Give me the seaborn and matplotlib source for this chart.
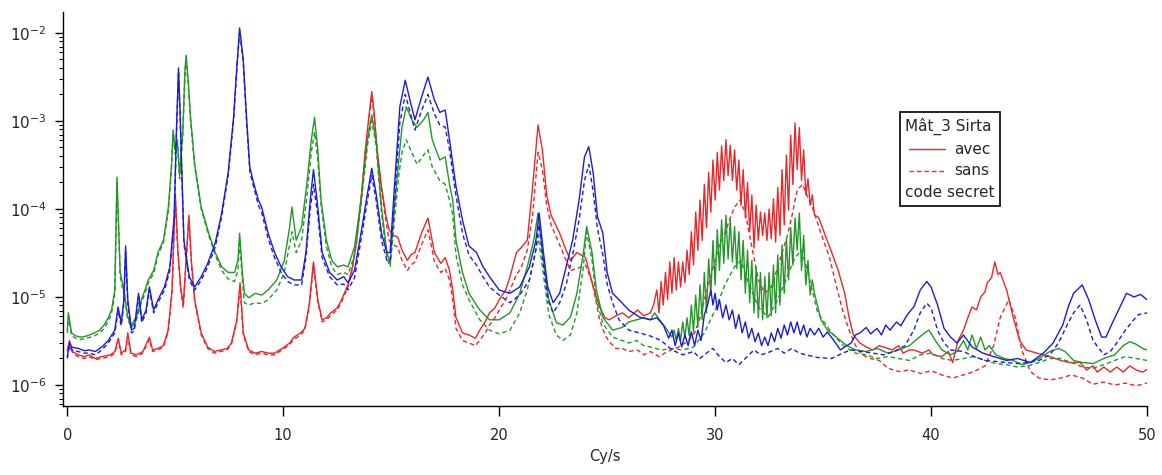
import matplotlib
matplotlib.use("Agg")
import matplotlib.pyplot as plt
import pandas as pd
import seaborn as sns
from matplotlib.lines import Line2D
from matplotlib.offsetbox import AnchoredOffsetbox, VPacker, HPacker, TextArea, DrawingArea
from matplotlib.ticker import LogLocator, NullFormatter, NullLocator

# Spectres Mât_3 Sirta : (fréquence Cy/s, densité)
red_avec = [
    (0.0, 2.5e-6), (0.1, 3.2e-6), (0.25, 2.4e-6), (0.5, 2.2e-6), (0.8, 2.1e-6), (1.0, 2.2e-6),
    (1.3, 2.0e-6), (1.6, 2.1e-6), (2.0, 2.2e-6), (2.2, 2.4e-6), (2.36, 3.4e-6), (2.5, 2.3e-6),
    (2.7, 2.5e-6), (2.8, 3.9e-6), (2.95, 2.3e-6), (3.2, 2.2e-6), (3.5, 2.4e-6), (3.8, 3.5e-6),
    (3.95, 2.5e-6), (4.2, 2.6e-6), (4.45, 2.8e-6), (4.67, 4.2e-6), (4.85, 1.2e-5), (5.0, 1.5e-4),
    (5.12, 3.4e-5), (5.25, 1.3e-5), (5.37, 8.1e-6), (5.5, 2.6e-5), (5.63, 8.5e-5), (5.75, 2.5e-5),
    (5.9, 9.3e-6), (6.2, 3.9e-6), (6.5, 2.7e-6), (6.8, 2.4e-6), (7.1, 2.5e-6), (7.4, 2.6e-6),
    (7.6, 3.0e-6), (7.85, 5.5e-6), (8.0, 1.45e-5), (8.15, 3.9e-6), (8.4, 2.5e-6), (8.7, 2.3e-6),
    (9.0, 2.4e-6), (9.3, 2.3e-6), (9.6, 2.3e-6), (10.05, 2.7e-6), (10.3, 3.0e-6), (10.5, 3.5e-6),
    (10.8, 3.9e-6), (11.0, 4.4e-6), (11.2, 8.1e-6), (11.4, 2.5e-5), (11.6, 9.3e-6), (11.8, 5.5e-6),
    (12.0, 5.8e-6), (12.2, 6.6e-6), (12.5, 7.5e-6), (12.7, 9.3e-6), (13.0, 1.37e-5), (13.2, 2.2e-5),
    (13.4, 4.4e-5), (13.6, 1.26e-4), (13.8, 4.7e-4), (13.95, 1.03e-3), (14.1, 2.15e-3), (14.2, 1.33e-3),
    (14.35, 4.7e-4), (14.55, 1.8e-4), (14.75, 8.5e-5), (14.9, 5.8e-5), (15.1, 5.0e-5), (15.3, 4.8e-5),
    (15.5, 3.4e-5), (15.75, 2.6e-5), (15.9, 3.0e-5), (16.1, 3.2e-5), (16.4, 5.3e-5), (16.7, 7.9e-5),
    (16.85, 5.0e-5), (17.0, 3.2e-5), (17.3, 2.4e-5), (17.5, 2.8e-5), (17.7, 2.0e-5), (17.85, 1.2e-5),
    (18.0, 5.8e-6), (18.3, 3.9e-6), (18.6, 3.7e-6), (18.9, 3.4e-6), (19.1, 4.2e-6), (19.35, 5.2e-6),
    (19.55, 6.6e-6), (19.8, 7.5e-6), (20.0, 9.3e-6), (20.3, 1.2e-5), (20.5, 1.7e-5), (20.8, 3.2e-5),
    (21.0, 3.6e-5), (21.3, 4.4e-5), (21.55, 1.8e-4), (21.8, 9.0e-4), (22.0, 4.7e-4), (22.2, 1.44e-4),
    (22.4, 8.5e-5), (22.8, 5.3e-5), (23.1, 3.4e-5), (23.3, 2.6e-5), (23.6, 3.2e-5), (24.0, 2.8e-5),
    (24.3, 1.45e-5), (24.65, 7.7e-6), (24.9, 5.8e-6), (25.1, 5.5e-6), (25.4, 6.1e-6), (25.7, 6.6e-6),
    (26.0, 5.8e-6), (26.4, 7.1e-6), (26.7, 6.1e-6), (27.0, 6.6e-6), (27.15, 8.1e-6),
    (27.3, 1.2e-5), (27.4, 6.6e-6), (27.5, 1.5e-5), (27.6, 8.1e-6), (27.7, 1.9e-5), (27.8, 9.3e-6),
    (27.9, 2.5e-5), (28.0, 1.1e-5), (28.1, 2.8e-5), (28.2, 1.2e-5), (28.3, 2.5e-5), (28.4, 1.3e-5),
    (28.5, 2.5e-5), (28.6, 1.45e-5), (28.7, 3.4e-5), (28.8, 1.8e-5), (28.9, 5.5e-5), (29.0, 2.3e-5),
    (29.1, 9.2e-5), (29.2, 3.4e-5), (29.3, 1.26e-4), (29.4, 4.4e-5), (29.5, 1.9e-4), (29.6, 6.1e-5),
    (29.7, 2.6e-4), (29.8, 9.2e-5), (29.9, 3.6e-4), (30.0, 1.26e-4), (30.1, 4.4e-4), (30.2, 1.64e-4),
    (30.3, 5.2e-4), (30.4, 2.1e-4), (30.5, 6.1e-4), (30.6, 2.4e-4), (30.7, 5.3e-4), (30.8, 2.1e-4),
    (30.9, 4.7e-4), (31.0, 1.64e-4), (31.1, 3.6e-4), (31.2, 1.1e-4), (31.3, 2.8e-4), (31.4, 7.9e-5),
    (31.5, 2.0e-4), (31.6, 5.5e-5), (31.7, 1.44e-4), (31.8, 3.6e-5), (31.9, 1.1e-4), (32.0, 4.4e-5),
    (32.1, 9.2e-5), (32.2, 5.0e-5), (32.3, 9.0e-5), (32.4, 4.4e-5), (32.5, 1.0e-4), (32.6, 4.6e-5),
    (32.7, 1.3e-4), (32.8, 4.2e-5), (32.9, 1.75e-4), (33.0, 5.0e-5), (33.1, 2.8e-4), (33.2, 6.6e-5),
    (33.3, 4.1e-4), (33.4, 9.7e-5), (33.5, 6.9e-4), (33.6, 1.9e-4), (33.7, 9.5e-4), (33.8, 2.8e-4),
    (33.9, 8.4e-4), (34.0, 2.1e-4), (34.1, 4.7e-4), (34.2, 1.44e-4), (34.3, 2.2e-4), (34.4, 1.1e-4),
    (34.5, 1.44e-4), (34.6, 8.5e-5), (34.8, 8.0e-5), (35.1, 5.0e-5), (35.4, 3.2e-5), (35.7, 2.0e-5),
    (36.0, 1.1e-5), (36.2, 5.9e-6), (36.4, 3.7e-6), (36.7, 3.0e-6), (37.0, 2.7e-6), (37.3, 2.5e-6),
    (37.6, 2.8e-6), (37.8, 2.7e-6), (38.2, 2.5e-6), (38.5, 2.8e-6), (38.7, 2.3e-6), (39.0, 2.5e-6),
    (39.2, 2.5e-6), (39.6, 2.3e-6), (39.9, 2.5e-6), (40.1, 2.2e-6), (40.5, 2.1e-6), (40.8, 2.4e-6),
    (41.0, 1.8e-6), (41.25, 3.2e-6), (41.5, 4.2e-6), (41.7, 5.8e-6), (41.9, 7.7e-6), (42.1, 7.1e-6),
    (42.3, 1.0e-5), (42.5, 1.15e-5), (42.6, 1.45e-5), (42.8, 1.65e-5), (42.95, 2.5e-5), (43.1, 1.8e-5),
    (43.2, 1.9e-5), (43.5, 1.2e-5), (43.8, 5.9e-6), (44.1, 3.2e-6), (44.4, 2.5e-6), (44.9, 2.3e-6),
    (45.5, 2.1e-6), (46.0, 1.9e-6), (46.4, 1.8e-6), (46.9, 1.8e-6), (47.2, 1.48e-6), (47.5, 1.65e-6),
    (47.7, 1.4e-6), (48.0, 1.6e-6), (48.3, 1.4e-6), (48.6, 1.6e-6), (48.9, 1.4e-6), (49.2, 1.65e-6),
    (49.5, 1.48e-6), (49.8, 1.4e-6), (50.0, 1.5e-6),
]

red_sans = [
    (0.0, 2.4e-6), (0.1, 3.0e-6), (0.25, 2.3e-6), (0.5, 2.1e-6), (0.8, 2.0e-6), (1.0, 2.1e-6),
    (1.3, 1.95e-6), (1.6, 2.0e-6), (2.0, 2.1e-6), (2.2, 2.3e-6), (2.36, 3.2e-6), (2.5, 2.2e-6),
    (2.7, 2.4e-6), (2.8, 3.6e-6), (2.95, 2.2e-6), (3.2, 2.1e-6), (3.5, 2.3e-6), (3.8, 3.3e-6),
    (3.95, 2.4e-6), (4.2, 2.5e-6), (4.45, 2.7e-6), (4.67, 4.0e-6), (4.85, 1.1e-5), (5.0, 1.35e-4),
    (5.12, 3.2e-5), (5.25, 1.2e-5), (5.37, 7.5e-6), (5.5, 2.4e-5), (5.63, 7.8e-5), (5.75, 2.3e-5),
    (5.9, 8.8e-6), (6.2, 3.7e-6), (6.5, 2.6e-6), (6.8, 2.3e-6), (7.1, 2.4e-6), (7.4, 2.5e-6),
    (7.6, 2.9e-6), (7.85, 5.2e-6), (8.0, 1.35e-5), (8.15, 3.7e-6), (8.4, 2.4e-6), (8.7, 2.2e-6),
    (9.0, 2.3e-6), (9.3, 2.2e-6), (9.6, 2.2e-6), (10.05, 2.6e-6), (10.3, 2.9e-6), (10.5, 3.3e-6),
    (10.8, 3.7e-6), (11.0, 4.2e-6), (11.2, 7.6e-6), (11.4, 2.3e-5), (11.6, 8.8e-6), (11.8, 5.2e-6),
    (12.0, 5.5e-6), (12.2, 6.2e-6), (12.5, 7.1e-6), (12.7, 8.8e-6), (13.0, 1.3e-5), (13.2, 2.1e-5),
    (13.4, 4.2e-5), (13.6, 1.2e-4), (13.8, 4.5e-4), (13.95, 9.5e-4), (14.1, 1.9e-3), (14.2, 1.2e-3),
    (14.35, 4.4e-4), (14.55, 1.6e-4), (14.75, 7.5e-5), (14.9, 4.4e-5), (15.1, 3.9e-5), (15.3, 3.7e-5),
    (15.5, 2.6e-5), (15.75, 2.0e-5), (15.9, 2.3e-5), (16.1, 2.5e-5), (16.4, 3.9e-5), (16.7, 5.8e-5),
    (16.85, 3.9e-5), (17.0, 2.5e-5), (17.3, 1.9e-5), (17.5, 2.1e-5), (17.7, 1.56e-5), (17.85, 9.3e-6),
    (18.0, 4.4e-6), (18.3, 3.2e-6), (18.6, 3.0e-6), (18.9, 2.8e-6), (19.1, 3.2e-6), (19.35, 3.9e-6),
    (19.55, 4.8e-6), (19.8, 5.8e-6), (20.0, 7.1e-6), (20.3, 9.3e-6), (20.5, 1.2e-5), (20.8, 1.8e-5),
    (21.0, 2.1e-5), (21.3, 3.4e-5), (21.55, 8.5e-5), (21.8, 4.4e-4), (22.0, 2.8e-4), (22.2, 1.1e-4),
    (22.4, 6.6e-5), (22.8, 3.9e-5), (23.1, 2.6e-5), (23.3, 2.0e-5), (23.6, 2.1e-5), (24.0, 2.3e-5),
    (24.3, 1.5e-5), (24.65, 5.5e-6), (24.9, 3.7e-6), (25.1, 3.1e-6), (25.4, 2.6e-6), (25.7, 2.6e-6),
    (26.0, 2.4e-6), (26.4, 2.5e-6), (26.7, 2.2e-6), (27.0, 2.4e-6), (27.4, 2.1e-6), (27.8, 2.4e-6),
    (28.3, 2.7e-6), (28.7, 3.1e-6), (29.05, 3.9e-6), (29.3, 5.8e-6), (29.5, 9.3e-6), (29.75, 1.56e-5),
    (30.0, 2.6e-5), (30.2, 3.9e-5), (30.45, 5.3e-5), (30.7, 7.9e-5), (30.9, 1.05e-4), (31.15, 1.26e-4),
    (31.4, 9.0e-5), (31.7, 3.7e-5), (32.0, 1.56e-5), (32.3, 1.1e-5), (32.6, 1.3e-5), (32.85, 2.0e-5),
    (33.1, 3.2e-5), (33.35, 5.0e-5), (33.55, 8.2e-5), (33.8, 1.64e-4), (34.05, 1.9e-4), (34.25, 1.44e-4),
    (34.5, 1.05e-4), (34.9, 5.3e-5), (35.3, 2.8e-5), (35.6, 1.37e-5), (35.9, 7.1e-6), (36.2, 4.2e-6),
    (36.5, 2.8e-6), (36.8, 2.2e-6), (37.2, 2.0e-6), (37.6, 1.9e-6), (38.0, 1.55e-6), (38.5, 1.42e-6),
    (39.0, 1.48e-6), (39.5, 1.35e-6), (40.0, 1.45e-6), (40.5, 1.3e-6), (41.0, 1.2e-6), (41.5, 1.3e-6),
    (42.0, 1.42e-6), (42.5, 1.65e-6), (42.9, 2.8e-6), (43.2, 5.8e-6), (43.6, 9.3e-6), (43.9, 5.8e-6),
    (44.2, 2.5e-6), (44.6, 1.42e-6), (45.0, 1.2e-6), (45.5, 1.14e-6), (46.0, 1.2e-6), (46.5, 1.3e-6),
    (47.0, 1.2e-6), (47.5, 1.02e-6), (48.0, 1.08e-6), (48.5, 1.0e-6), (49.0, 1.05e-6), (49.5, 9.8e-7),
    (50.0, 1.05e-6),
]

green_avec = [
    (0.0, 4.2e-6), (0.05, 6.6e-6), (0.2, 3.9e-6), (0.4, 3.6e-6), (0.65, 3.5e-6), (0.9, 3.6e-6),
    (1.25, 3.9e-6), (1.5, 4.2e-6), (1.7, 4.8e-6), (1.9, 5.8e-6), (2.05, 7.1e-6), (2.2, 1.2e-5),
    (2.3, 2.3e-4), (2.45, 1.9e-5), (2.65, 1.1e-5), (2.8, 5.9e-6), (2.97, 4.8e-6), (3.2, 5.9e-6),
    (3.43, 9.3e-6), (3.6, 1.2e-5), (3.75, 1.56e-5), (4.0, 2.0e-5), (4.2, 3.2e-5), (4.45, 4.4e-5),
    (4.68, 1.05e-4), (4.82, 3.0e-4), (4.9, 7.9e-4), (5.0, 4.7e-4), (5.1, 6.1e-4), (5.2, 2.4e-4),
    (5.35, 7.9e-4), (5.45, 3.8e-3), (5.5, 5.6e-3), (5.6, 2.9e-3), (5.7, 1.17e-3), (5.9, 3.2e-4),
    (6.2, 1.05e-4), (6.55, 5.3e-5), (6.85, 3.2e-5), (7.15, 2.2e-5), (7.45, 1.9e-5), (7.75, 1.9e-5),
    (7.9, 2.6e-5), (7.98, 5.3e-5), (8.1, 2.0e-5), (8.2, 1.1e-5), (8.4, 9.8e-6), (8.7, 1.1e-5),
    (9.0, 1.05e-5), (9.3, 1.2e-5), (9.7, 1.56e-5), (10.05, 2.6e-5), (10.3, 6.3e-5), (10.4, 1.05e-4),
    (10.6, 4.4e-5), (10.85, 6.3e-5), (11.1, 2.0e-4), (11.3, 6.1e-4), (11.45, 1.1e-3), (11.6, 4.7e-4),
    (11.75, 1.26e-4), (12.0, 4.4e-5), (12.25, 2.6e-5), (12.5, 2.2e-5), (12.8, 2.3e-5), (13.0, 2.2e-5),
    (13.3, 3.7e-5), (13.6, 1.26e-4), (13.9, 6.1e-4), (14.1, 1.17e-3), (14.3, 6.1e-4), (14.55, 1.05e-4),
    (14.8, 3.2e-5), (14.95, 2.4e-5), (15.15, 1.05e-4), (15.35, 3.6e-4), (15.5, 8.5e-4), (15.7, 1.45e-3),
    (15.95, 1.03e-3), (16.2, 8.5e-4), (16.5, 1.03e-3), (16.7, 1.25e-3), (16.9, 6.1e-4), (17.25, 3.6e-4),
    (17.5, 3.9e-4), (17.7, 1.9e-4), (17.85, 1.26e-4), (18.0, 4.4e-5), (18.3, 1.9e-5), (18.6, 1.1e-5),
    (19.1, 7.1e-6), (19.55, 5.5e-6), (20.0, 5.5e-6), (20.5, 6.6e-6), (20.95, 1.1e-5), (21.3, 2.2e-5),
    (21.6, 4.4e-5), (21.8, 9.0e-5), (22.0, 3.2e-5), (22.3, 9.3e-6), (22.65, 5.1e-6), (22.95, 4.8e-6),
    (23.3, 5.9e-6), (23.6, 1.1e-5), (23.9, 3.2e-5), (24.05, 6.3e-5), (24.3, 3.2e-5), (24.5, 1.2e-5),
    (24.8, 5.9e-6), (25.25, 4.2e-6), (25.7, 4.5e-6), (26.0, 5.2e-6), (26.35, 5.5e-6), (26.7, 5.8e-6),
    (27.0, 5.5e-6), (27.2, 6.6e-6), (27.5, 5.2e-6), (27.7, 4.5e-6), (28.0, 3.5e-6),
    (28.1, 4.2e-6), (28.2, 3.2e-6), (28.3, 4.4e-6), (28.4, 3.2e-6), (28.5, 5.2e-6), (28.6, 3.4e-6),
    (28.7, 5.8e-6), (28.8, 3.6e-6), (28.9, 8.1e-6), (29.0, 4.0e-6), (29.1, 1.05e-5), (29.2, 4.5e-6),
    (29.3, 1.37e-5), (29.4, 5.5e-6), (29.5, 1.9e-5), (29.6, 6.6e-6), (29.7, 2.7e-5), (29.8, 1.05e-5),
    (29.9, 4.4e-5), (30.0, 1.37e-5), (30.1, 5.8e-5), (30.2, 2.0e-5), (30.3, 7.5e-5), (30.4, 2.4e-5),
    (30.5, 8.5e-5), (30.6, 2.7e-5), (30.7, 7.5e-5), (30.8, 2.5e-5), (30.9, 6.3e-5), (31.0, 2.1e-5),
    (31.1, 5.5e-5), (31.2, 1.56e-5), (31.3, 4.4e-5), (31.4, 1.1e-5), (31.5, 3.4e-5), (31.6, 8.6e-6),
    (31.7, 2.6e-5), (31.8, 6.6e-6), (31.9, 2.2e-5), (32.0, 5.8e-6), (32.1, 1.9e-5), (32.2, 5.5e-6),
    (32.3, 1.7e-5), (32.4, 5.8e-6), (32.5, 1.9e-5), (32.6, 6.1e-6), (32.7, 2.3e-5), (32.8, 6.6e-6),
    (32.9, 3.0e-5), (33.0, 8.1e-6), (33.1, 3.9e-5), (33.2, 1.1e-5), (33.3, 4.6e-5), (33.4, 1.56e-5),
    (33.5, 6.1e-5), (33.6, 2.3e-5), (33.7, 7.9e-5), (33.8, 3.4e-5), (33.9, 9.0e-5), (34.0, 2.0e-5),
    (34.1, 5.0e-5), (34.2, 1.37e-5), (34.3, 2.6e-5), (34.4, 1.05e-5), (34.5, 1.56e-5), (34.6, 1.1e-5),
    (34.9, 5.5e-6), (35.2, 4.2e-6), (35.5, 3.7e-6), (35.8, 3.2e-6), (36.1, 2.8e-6), (36.5, 2.5e-6),
    (37.0, 2.4e-6), (37.5, 2.6e-6), (38.0, 2.3e-6), (38.5, 2.5e-6), (39.0, 2.8e-6), (39.4, 3.4e-6),
    (39.7, 3.9e-6), (39.9, 4.2e-6), (40.2, 3.2e-6), (40.5, 2.5e-6), (40.9, 2.2e-6), (41.2, 2.4e-6),
    (41.5, 3.2e-6), (41.7, 2.5e-6), (41.9, 3.7e-6), (42.1, 2.6e-6), (42.3, 3.5e-6), (42.5, 2.5e-6),
    (42.7, 2.8e-6), (43.0, 2.2e-6), (43.4, 2.0e-6), (43.8, 1.9e-6), (44.2, 1.7e-6), (44.6, 1.8e-6),
    (45.0, 2.0e-6), (45.5, 2.4e-6), (45.9, 2.6e-6), (46.2, 2.4e-6), (46.6, 1.9e-6), (47.0, 1.8e-6),
    (47.5, 1.75e-6), (48.0, 2.0e-6), (48.5, 2.2e-6), (48.9, 2.8e-6), (49.2, 3.1e-6), (49.5, 2.9e-6),
    (49.8, 2.6e-6), (50.0, 2.5e-6),
]

green_sans = [
    (0.0, 3.9e-6), (0.05, 6.0e-6), (0.2, 3.6e-6), (0.4, 3.4e-6), (0.65, 3.3e-6), (0.9, 3.4e-6),
    (1.25, 3.6e-6), (1.5, 3.9e-6), (1.7, 4.4e-6), (1.9, 5.3e-6), (2.05, 6.6e-6), (2.2, 1.1e-5),
    (2.3, 2.0e-4), (2.45, 1.7e-5), (2.65, 1.0e-5), (2.8, 5.5e-6), (2.97, 4.5e-6), (3.2, 5.5e-6),
    (3.43, 8.6e-6), (3.6, 1.1e-5), (3.75, 1.45e-5), (4.0, 1.85e-5), (4.2, 3.0e-5), (4.45, 4.1e-5),
    (4.68, 9.5e-5), (4.82, 2.7e-4), (4.9, 7.0e-4), (5.0, 4.2e-4), (5.1, 5.5e-4), (5.2, 2.2e-4),
    (5.35, 7.0e-4), (5.45, 3.4e-3), (5.5, 5.0e-3), (5.6, 2.6e-3), (5.7, 1.05e-3), (5.9, 3.0e-4),
    (6.2, 1.0e-4), (6.55, 5.0e-5), (6.85, 3.0e-5), (7.15, 2.0e-5), (7.45, 1.6e-5), (7.75, 1.5e-5),
    (7.9, 2.0e-5), (7.98, 4.4e-5), (8.1, 1.6e-5), (8.2, 8.6e-6), (8.4, 8.1e-6), (8.7, 8.6e-6),
    (9.0, 8.4e-6), (9.3, 9.3e-6), (9.7, 1.2e-5), (10.05, 1.9e-5), (10.3, 4.0e-5), (10.4, 5.5e-5),
    (10.6, 3.2e-5), (10.85, 4.4e-5), (11.1, 1.4e-4), (11.3, 4.4e-4), (11.45, 7.5e-4), (11.6, 3.6e-4),
    (11.75, 1.1e-4), (12.0, 3.7e-5), (12.25, 2.2e-5), (12.5, 1.8e-5), (12.8, 1.9e-5), (13.0, 1.8e-5),
    (13.3, 3.0e-5), (13.6, 1.1e-4), (13.9, 5.3e-4), (14.1, 1.0e-3), (14.3, 5.3e-4), (14.55, 9.0e-5),
    (14.8, 2.8e-5), (14.95, 2.2e-5), (15.15, 7.5e-5), (15.35, 2.4e-4), (15.5, 4.4e-4), (15.7, 6.1e-4),
    (15.95, 4.4e-4), (16.2, 3.2e-4), (16.5, 4.1e-4), (16.7, 4.7e-4), (16.9, 3.0e-4), (17.25, 2.1e-4),
    (17.5, 1.9e-4), (17.7, 1.26e-4), (17.85, 8.5e-5), (18.0, 3.0e-5), (18.3, 1.37e-5), (18.6, 9.3e-6),
    (19.1, 5.5e-6), (19.55, 4.2e-6), (20.0, 3.8e-6), (20.5, 4.2e-6), (20.95, 6.6e-6), (21.3, 1.2e-5),
    (21.6, 2.6e-5), (21.8, 5.0e-5), (22.0, 2.2e-5), (22.3, 6.3e-6), (22.65, 3.7e-6), (22.95, 3.2e-6),
    (23.3, 3.7e-6), (23.6, 6.6e-6), (23.9, 2.2e-5), (24.05, 5.5e-5), (24.3, 2.6e-5), (24.5, 9.3e-6),
    (24.8, 5.0e-6), (25.25, 3.5e-6), (25.7, 3.2e-6), (26.0, 3.0e-6), (26.35, 3.2e-6), (26.7, 2.8e-6),
    (27.0, 2.7e-6), (27.5, 2.5e-6), (28.0, 2.6e-6), (28.5, 2.5e-6), (29.0, 2.7e-6), (29.5, 3.9e-6),
    (30.0, 7.1e-6), (30.45, 1.37e-5), (30.9, 2.2e-5), (31.2, 2.6e-5), (31.5, 1.56e-5), (32.0, 7.7e-6),
    (32.45, 5.9e-6), (32.9, 9.3e-6), (33.4, 1.85e-5), (33.7, 2.8e-5), (34.0, 3.4e-5), (34.3, 1.9e-5),
    (34.75, 6.6e-6), (35.4, 3.9e-6), (36.0, 2.7e-6), (36.5, 2.3e-6), (37.0, 2.2e-6), (37.5, 2.0e-6),
    (38.0, 2.1e-6), (38.5, 2.0e-6), (39.0, 1.9e-6), (39.5, 2.2e-6), (40.0, 2.3e-6), (40.5, 2.0e-6),
    (41.0, 1.9e-6), (41.5, 2.0e-6), (42.0, 2.1e-6), (42.5, 1.9e-6), (43.0, 1.75e-6), (43.5, 1.7e-6),
    (44.0, 1.6e-6), (44.5, 1.65e-6), (45.0, 1.8e-6), (45.5, 2.0e-6), (46.0, 2.0e-6), (46.5, 1.8e-6),
    (47.0, 1.6e-6), (47.5, 1.55e-6), (48.0, 1.7e-6), (48.5, 1.9e-6), (49.0, 2.1e-6), (49.5, 2.0e-6),
    (50.0, 1.9e-6),
]

blue_avec = [
    (0.0, 2.1e-6), (0.1, 3.0e-6), (0.2, 2.7e-6), (0.5, 2.6e-6), (0.8, 2.45e-6), (1.0, 2.5e-6),
    (1.3, 2.4e-6), (1.6, 2.7e-6), (1.9, 3.2e-6), (2.2, 4.2e-6), (2.35, 7.7e-6), (2.5, 5.1e-6),
    (2.62, 9.3e-6), (2.7, 3.8e-5), (2.8, 9.3e-6), (2.97, 4.2e-6), (3.1, 4.4e-6), (3.3, 1.1e-5),
    (3.45, 5.5e-6), (3.65, 7.1e-6), (3.8, 1.3e-5), (4.0, 7.1e-6), (4.2, 9.3e-6), (4.5, 1.3e-5),
    (4.75, 2.2e-5), (4.95, 8.2e-5), (5.05, 7.4e-4), (5.15, 4.0e-3), (5.22, 1.33e-3), (5.3, 3.0e-4),
    (5.4, 4.4e-5), (5.65, 1.7e-5), (5.9, 1.3e-5), (6.2, 1.7e-5), (6.5, 2.4e-5), (6.85, 4.1e-5),
    (7.15, 9.0e-5), (7.45, 2.6e-4), (7.7, 1.1e-3), (7.85, 4.1e-3), (7.98, 1.14e-2), (8.15, 4.9e-3),
    (8.3, 1.1e-3), (8.45, 3.0e-4), (8.6, 2.1e-4), (8.85, 1.26e-4), (9.0, 1.05e-4), (9.3, 5.3e-5),
    (9.6, 3.2e-5), (9.9, 2.2e-5), (10.2, 1.7e-5), (10.5, 1.56e-5), (10.85, 1.56e-5), (11.05, 3.2e-5),
    (11.25, 1.26e-4), (11.4, 2.8e-4), (11.6, 1.05e-4), (11.8, 3.2e-5), (12.15, 1.9e-5), (12.5, 1.56e-5),
    (12.8, 1.7e-5), (13.0, 1.45e-5), (13.3, 2.0e-5), (13.6, 5.3e-5), (13.9, 1.5e-4), (14.1, 2.9e-4),
    (14.3, 1.5e-4), (14.55, 5.3e-5), (14.8, 3.2e-5), (14.95, 3.2e-5), (15.15, 1.8e-4), (15.4, 1.45e-3),
    (15.65, 2.9e-3), (15.9, 1.6e-3), (16.1, 1.03e-3), (16.4, 1.85e-3), (16.7, 3.15e-3), (17.0, 1.73e-3),
    (17.25, 1.25e-3), (17.5, 1.33e-3), (17.7, 6.1e-4), (18.0, 1.8e-4), (18.3, 7.5e-5), (18.6, 3.8e-5),
    (18.95, 3.2e-5), (19.25, 2.2e-5), (19.55, 1.7e-5), (20.0, 1.2e-5), (20.5, 1.1e-5), (20.95, 1.3e-5),
    (21.4, 2.2e-5), (21.7, 4.4e-5), (21.85, 9.0e-5), (22.05, 3.2e-5), (22.25, 1.3e-5), (22.5, 8.6e-6),
    (22.8, 1.1e-5), (23.1, 2.2e-5), (23.4, 4.4e-5), (23.7, 1.26e-4), (23.95, 3.9e-4), (24.15, 5.1e-4),
    (24.35, 2.6e-4), (24.55, 8.2e-5), (24.8, 5.3e-5), (25.0, 1.9e-5), (25.25, 1.1e-5), (25.55, 9.3e-6),
    (26.0, 7.1e-6), (26.5, 5.9e-6), (27.0, 5.5e-6), (27.3, 5.8e-6), (27.6, 4.8e-6), (27.85, 3.4e-6),
    (28.0, 4.2e-6), (28.15, 2.8e-6), (28.3, 3.9e-6), (28.45, 2.7e-6), (28.6, 3.7e-6), (28.75, 2.8e-6),
    (28.9, 4.0e-6), (29.05, 2.8e-6), (29.2, 4.2e-6), (29.35, 3.2e-6), (29.5, 6.3e-6), (29.65, 8.1e-6),
    (29.8, 1.2e-5), (29.9, 8.1e-6), (30.0, 1.1e-5), (30.1, 7.1e-6), (30.2, 9.3e-6), (30.35, 5.8e-6),
    (30.5, 8.1e-6), (30.65, 5.5e-6), (30.8, 7.1e-6), (30.95, 4.4e-6), (31.1, 6.3e-6), (31.25, 3.9e-6),
    (31.4, 5.2e-6), (31.55, 3.4e-6), (31.7, 4.4e-6), (31.85, 3.1e-6), (32.0, 3.9e-6), (32.15, 2.8e-6),
    (32.3, 3.5e-6), (32.45, 2.8e-6), (32.6, 3.9e-6), (32.75, 3.1e-6), (32.9, 4.4e-6), (33.05, 3.4e-6),
    (33.2, 4.8e-6), (33.35, 3.7e-6), (33.5, 5.2e-6), (33.65, 3.9e-6), (33.8, 5.2e-6), (33.95, 3.7e-6),
    (34.1, 4.8e-6), (34.25, 3.5e-6), (34.4, 4.4e-6), (34.6, 3.7e-6), (34.8, 4.4e-6), (35.0, 3.5e-6),
    (35.2, 4.0e-6), (35.5, 3.2e-6), (35.8, 2.5e-6), (36.0, 2.7e-6), (36.3, 3.0e-6), (36.5, 3.7e-6),
    (36.7, 3.9e-6), (37.0, 4.5e-6), (37.2, 3.8e-6), (37.5, 4.4e-6), (37.7, 3.7e-6), (37.9, 4.8e-6),
    (38.1, 4.2e-6), (38.4, 5.2e-6), (38.6, 4.7e-6), (38.9, 6.3e-6), (39.2, 7.7e-6), (39.5, 1.2e-5),
    (39.8, 1.5e-5), (40.0, 1.3e-5), (40.3, 8.1e-6), (40.6, 4.4e-6), (40.9, 3.5e-6), (41.2, 3.0e-6),
    (41.5, 3.7e-6), (41.9, 2.7e-6), (42.4, 2.3e-6), (42.9, 2.1e-6), (43.5, 1.9e-6), (44.0, 2.0e-6),
    (44.6, 1.8e-6), (45.2, 2.3e-6), (45.65, 3.0e-6), (46.1, 4.8e-6), (46.35, 7.7e-6), (46.6, 1.1e-5),
    (47.0, 1.37e-5), (47.3, 9.3e-6), (47.6, 5.5e-6), (47.9, 3.5e-6), (48.1, 3.5e-6), (48.4, 5.1e-6),
    (48.75, 7.7e-6), (49.05, 1.1e-5), (49.4, 1.0e-5), (49.7, 1.07e-5), (50.0, 9.3e-6),
]

blue_sans = [
    (0.0, 2.0e-6), (0.1, 2.8e-6), (0.2, 2.5e-6), (0.5, 2.4e-6), (0.8, 2.3e-6), (1.0, 2.3e-6),
    (1.3, 2.2e-6), (1.6, 2.5e-6), (1.9, 3.0e-6), (2.2, 3.9e-6), (2.35, 7.0e-6), (2.5, 4.7e-6),
    (2.62, 8.5e-6), (2.7, 3.2e-5), (2.8, 8.5e-6), (2.97, 3.9e-6), (3.1, 4.1e-6), (3.3, 1.0e-5),
    (3.45, 5.1e-6), (3.65, 6.6e-6), (3.8, 1.2e-5), (4.0, 6.6e-6), (4.2, 8.6e-6), (4.5, 1.2e-5),
    (4.75, 2.0e-5), (4.95, 7.5e-5), (5.05, 6.5e-4), (5.15, 3.6e-3), (5.22, 1.2e-3), (5.3, 2.7e-4),
    (5.4, 4.0e-5), (5.65, 1.55e-5), (5.9, 1.2e-5), (6.2, 1.55e-5), (6.5, 2.2e-5), (6.85, 3.7e-5),
    (7.15, 8.2e-5), (7.45, 2.4e-4), (7.7, 1.0e-3), (7.85, 3.8e-3), (7.98, 1.05e-2), (8.15, 4.5e-3),
    (8.3, 1.0e-3), (8.45, 2.7e-4), (8.6, 1.9e-4), (8.85, 1.1e-4), (9.0, 9.2e-5), (9.3, 4.6e-5),
    (9.6, 2.8e-5), (9.9, 1.9e-5), (10.2, 1.5e-5), (10.5, 1.37e-5), (10.85, 1.37e-5), (11.05, 2.8e-5),
    (11.25, 1.0e-4), (11.4, 1.9e-4), (11.6, 8.5e-5), (11.8, 2.8e-5), (12.15, 1.7e-5), (12.5, 1.37e-5),
    (12.8, 1.4e-5), (13.0, 1.2e-5), (13.3, 1.65e-5), (13.6, 4.4e-5), (13.9, 1.26e-4), (14.1, 2.4e-4),
    (14.3, 1.26e-4), (14.55, 4.4e-5), (14.8, 2.6e-5), (14.95, 2.6e-5), (15.15, 1.26e-4), (15.4, 9.5e-4),
    (15.65, 2.0e-3), (15.9, 1.2e-3), (16.1, 7.9e-4), (16.4, 1.3e-3), (16.7, 2.0e-3), (17.0, 1.2e-3),
    (17.25, 9.0e-4), (17.5, 8.5e-4), (17.7, 4.7e-4), (18.0, 1.4e-4), (18.3, 5.3e-5), (18.6, 3.0e-5),
    (18.95, 2.3e-5), (19.25, 1.7e-5), (19.55, 1.3e-5), (20.0, 1.05e-5), (20.5, 8.6e-6), (20.95, 1.05e-5),
    (21.4, 1.56e-5), (21.7, 3.4e-5), (21.85, 6.6e-5), (22.05, 2.3e-5), (22.25, 9.3e-6), (22.5, 6.6e-6),
    (22.8, 8.6e-6), (23.1, 1.37e-5), (23.4, 3.0e-5), (23.7, 7.5e-5), (23.95, 2.1e-4), (24.15, 3.2e-4),
    (24.35, 1.6e-4), (24.55, 6.0e-5), (24.8, 3.0e-5), (25.0, 1.4e-5), (25.25, 8.6e-6), (25.55, 5.5e-6),
    (26.0, 4.2e-6), (26.5, 3.9e-6), (27.0, 3.6e-6), (27.5, 3.2e-6), (28.0, 2.5e-6), (28.5, 2.2e-6),
    (29.0, 2.4e-6), (29.3, 2.0e-6), (29.6, 2.3e-6), (29.9, 2.6e-6), (30.2, 2.1e-6), (30.5, 1.8e-6),
    (30.8, 2.0e-6), (31.1, 1.7e-6), (31.4, 2.0e-6), (31.8, 2.5e-6), (32.1, 2.2e-6), (32.4, 2.3e-6),
    (32.9, 2.6e-6), (33.2, 2.3e-6), (33.55, 2.6e-6), (33.9, 2.3e-6), (34.2, 2.2e-6), (34.75, 2.05e-6),
    (35.4, 2.0e-6), (35.9, 2.3e-6), (36.3, 2.5e-6), (36.8, 2.4e-6), (37.3, 2.3e-6), (37.8, 2.2e-6),
    (38.3, 2.4e-6), (38.8, 2.8e-6), (39.2, 4.2e-6), (39.5, 6.6e-6), (39.8, 8.5e-6), (40.0, 7.5e-6),
    (40.3, 4.2e-6), (40.6, 3.0e-6), (40.9, 2.5e-6), (41.5, 2.4e-6), (42.0, 2.1e-6), (42.5, 1.9e-6),
    (43.0, 1.85e-6), (43.5, 1.8e-6), (44.0, 1.75e-6), (44.5, 1.8e-6), (45.0, 1.9e-6), (45.5, 2.2e-6),
    (45.9, 3.0e-6), (46.3, 4.8e-6), (46.6, 6.6e-6), (46.9, 8.1e-6), (47.2, 5.5e-6), (47.5, 3.2e-6),
    (48.0, 2.2e-6), (48.3, 2.4e-6), (48.6, 3.0e-6), (49.0, 4.2e-6), (49.3, 5.2e-6), (49.6, 6.3e-6),
    (50.0, 6.6e-6),
]

x_ticks = [0, 10, 20, 30, 40, 50]
legend_title = "Mât_3 Sirta"
legend_labels = ["avec", "sans"]
legend_note = "code secret"

RED, GREEN, BLUE = "#e8282b", "#24962a", "#1c1cd8"
SOLID, DASHED = "-", (0, (3.2, 2.2))

courbes = [
    (red_avec, RED, SOLID), (red_sans, RED, DASHED),
    (green_avec, GREEN, SOLID), (green_sans, GREEN, DASHED),
    (blue_avec, BLUE, SOLID), (blue_sans, BLUE, DASHED),
]

sns.set_theme(style="ticks")
plt.rcParams["font.family"] = ["DejaVu Sans"]
plt.rcParams["mathtext.default"] = "regular"

fig = plt.figure(figsize=(11.62, 4.75), dpi=100)
ax = fig.add_axes([0.0542, 0.1453, 0.9329, 0.8295])

for pts, col, ls in courbes:
    df = pd.DataFrame(pts, columns=["freq", "val"])
    sns.lineplot(data=df, x="freq", y="val", color=col, linestyle=ls, linewidth=1.0,
                 estimator=None, sort=False, legend=False, ax=ax)

ax.set_yscale("log")
ax.set_xlim(-0.2, 50)
ax.set_ylim(5.77e-7, 1.73e-2)
ax.set_xticks(x_ticks)
ax.xaxis.set_minor_locator(NullLocator())
ax.yaxis.set_major_locator(LogLocator(base=10, numticks=12))
ax.yaxis.set_minor_locator(LogLocator(base=10, subs=range(2, 10), numticks=60))
ax.yaxis.set_minor_formatter(NullFormatter())
ax.set_xlabel("Cy/s", fontsize=10.5, labelpad=4)
ax.set_ylabel("")

sns.despine(ax=ax)
for s in ["left", "bottom"]:
    ax.spines[s].set_color("black")
    ax.spines[s].set_linewidth(1.0)
ax.tick_params(axis="x", which="major", length=7, width=1, color="black", labelsize=10.5, pad=9)
ax.tick_params(axis="y", which="major", length=6, width=1, color="black", labelsize=11, pad=6)
ax.tick_params(axis="y", which="minor", length=3, width=0.8, color="black")

# légende façon Igor
def ligne_legende(style, texte):
    da = DrawingArea(30, 10, 0, 0)
    da.add_artist(Line2D([3, 29], [5, 5], color=RED, lw=1.0, linestyle=style))
    return HPacker(children=[da, TextArea(texte, textprops=dict(size=11))],
                   align="center", pad=0, sep=5)

rows = [TextArea(legend_title, textprops=dict(size=11)),
        ligne_legende(SOLID, legend_labels[0]),
        ligne_legende(DASHED, legend_labels[1]),
        TextArea(legend_note, textprops=dict(size=11))]
box = VPacker(children=rows, align="left", pad=0, sep=5)
leg = AnchoredOffsetbox(loc="upper left", child=box, pad=0.35, borderpad=0, frameon=True,
                        bbox_to_anchor=(0.772, 0.746), bbox_transform=ax.transAxes)
leg.patch.set_edgecolor("black")
leg.patch.set_linewidth(1.2)
leg.patch.set_boxstyle("square", pad=0)
ax.add_artist(leg)

fig.savefig("out.png", dpi=100)
